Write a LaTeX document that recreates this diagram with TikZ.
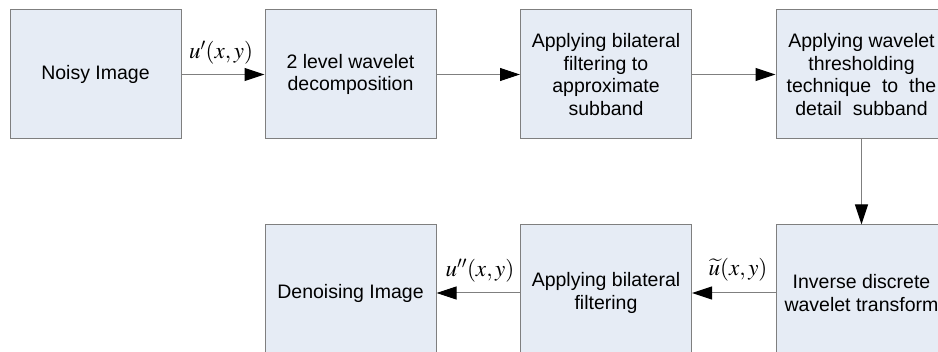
\documentclass[tikz,border=0pt]{standalone}
\usepackage{mathptmx}
\usepackage{fontspec}
\setmainfont{Liberation Sans}
\usetikzlibrary{arrows.meta}
\definecolor{boxfill}{HTML}{E6ECF5}
\definecolor{edge}{HTML}{7F7F7F}
\tikzset{
  blk/.style={draw=edge, fill=boxfill, line width=1pt, minimum width=171pt, minimum height=129pt,
    inner sep=0pt, align=center, font=\fontsize{19.5}{22.5}\selectfont},
  conn/.style={draw=edge, line width=1pt, -{Triangle[length=20pt,width=13pt,fill=black,color=black]}},
  lbl/.style={font=\fontsize{23}{24}\selectfont, inner sep=0pt}
}
\begin{document}
\begin{tikzpicture}[x=1pt,y=-1pt]
\useasboundingbox (0,0) rectangle (938,352);
\clip (0,0) rectangle (938,352);
\node[blk] (noisy) at (95.5,74.5) {Noisy Image};
\node[blk] (dec) at (350.5,74.5) {2 level wavelet\\decomposition};
\node[blk] (bil1) at (606,74.5) {Applying bilateral\\filtering to\\approximate\\subband};
\node[blk] (thr) at (861.5,74.5) {Applying wavelet\\thresholding\\technique\ \ to\ \ the\\detail\ \ subband};
\node[blk, minimum height=136pt] (den) at (350.5,293) {\raisebox{4pt}{Denoising Image}};
\node[blk, minimum height=136pt] (bil2) at (606,293) {\raisebox{4pt}{\parbox{171pt}{\centering Applying bilateral\\filtering}}};
\node[blk, minimum height=136pt] (inv) at (861.5,293) {\raisebox{4pt}{\parbox{171pt}{\centering Inverse discrete\\wavelet transform}}};
\draw[conn] (noisy) -- (dec);
\draw[conn] (dec) -- (bil1);
\draw[conn] (bil1) -- (thr);
\draw[conn] (thr.south) -- (inv.north);
\draw[conn] (inv) -- (bil2);
\draw[conn] (bil2) -- (den);
\node[lbl] (l1) at (221,53) {$u'(x,y)$};
\node[lbl] (l2) at (480,271) {$u''(x,y)$};
\node[lbl] (l3) at (738,270) {$\widetilde{u}(x,y)$};
\end{tikzpicture}
\end{document}
